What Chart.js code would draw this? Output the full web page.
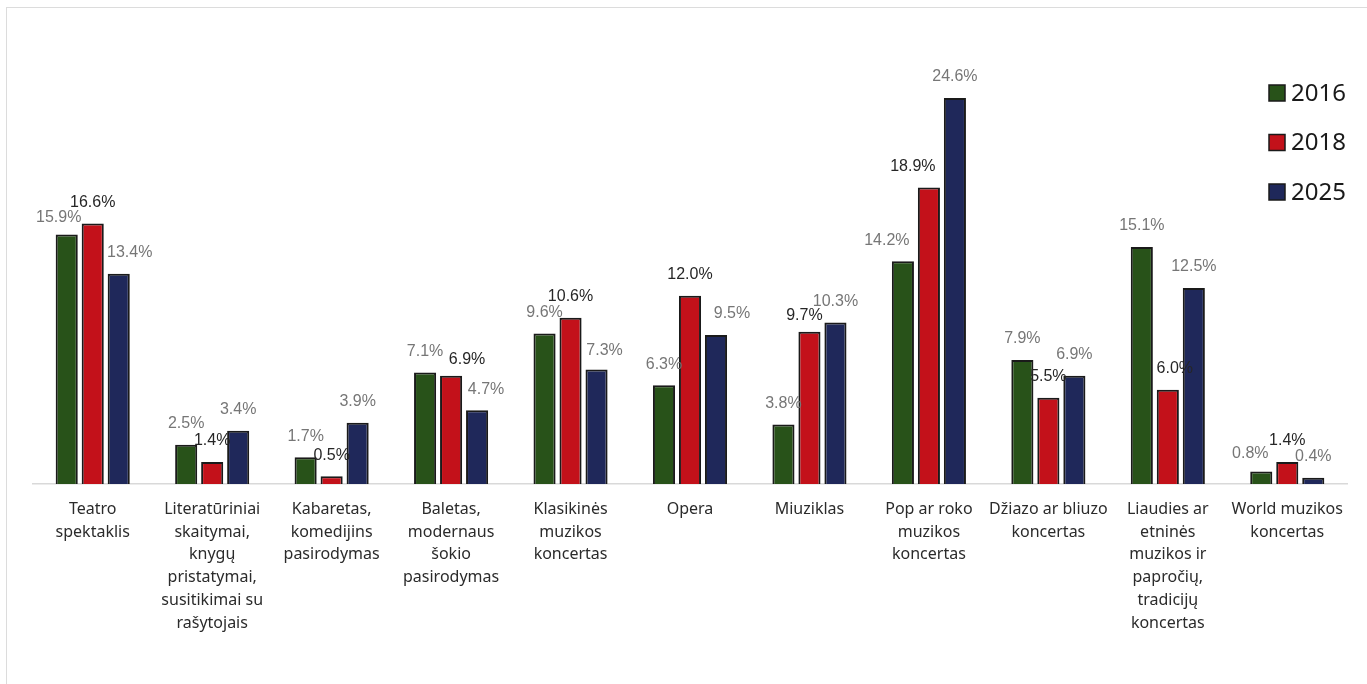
<!DOCTYPE html>
<html>
<head>
<meta charset="utf-8">
<script src="https://cdn.jsdelivr.net/npm/chart.js@4.4.1/dist/chart.umd.min.js"></script>
<style>
  html, body { margin: 0; padding: 0; background: #fff; overflow: hidden; }
  #frame { position: absolute; left: 6px; top: 7px; width: 1400px; height: 720px; border: 1.5px solid #dcdcdc; }
  #chart { position: absolute; left: 0; top: 0; }
</style>
</head>
<body>
<div id="frame"></div>
<canvas id="chart" width="1367" height="684"></canvas>
<script>
// Categories (line breaks as in the original labels)
const categories = [
  ["Teatro", "spektaklis"],
  ["Literatūriniai", "skaitymai,", "knygų", "pristatymai,", "susitikimai su", "rašytojais"],
  ["Kabaretas,", "komedijins", "pasirodymas"],
  ["Baletas,", "modernaus", "šokio", "pasirodymas"],
  ["Klasikinės", "muzikos", "koncertas"],
  ["Opera"],
  ["Miuziklas"],
  ["Pop ar roko", "muzikos", "koncertas"],
  ["Džiazo ar bliuzo", "koncertas"],
  ["Liaudies ar", "etninės", "muzikos ir", "papročių,", "tradicijų", "koncertas"],
  ["World muzikos", "koncertas"]
];

const years = ["2016", "2018", "2025"];
const values2016 = [15.9, 2.5, 1.7, 7.1, 9.6, 6.3, 3.8, 14.2, 7.9, 15.1, 0.8];
const values2018 = [16.6, 1.4, 0.5, 6.9, 10.6, 12.0, 9.7, 18.9, 5.5, 6.0, 1.4];
const values2025 = [13.4, 3.4, 3.9, 4.7, 7.3, 9.5, 10.3, 24.6, 6.9, 12.5, 0.4];

const colors = ["#285219", "#c3111a", "#1f285a"];
const labelColors = ["#767676", "#262626", "#767676"];

// Excel moved a few data labels to avoid overlaps: [series, category] -> [dx, dy]
const labelNudge = {
  "0,0": [-8, 4], "2,0": [11, 0],
  "1,3": [16, 5], "2,3": [9, 0],
  "2,4": [8, 2],
  "2,5": [16, 0],
  "1,6": [-5, 5],
  "0,7": [-16, 0], "1,7": [-16, 0],
  "1,9": [7, 0],
  "0,10": [-11, 3]
};

const dataLabels = {
  id: 'dataLabels',
  afterDatasetsDraw(chart) {
    const ctx = chart.ctx;
    ctx.save();
    ctx.font = '16px "Liberation Sans", Arial, sans-serif';
    ctx.textAlign = 'center';
    ctx.textBaseline = 'middle';
    chart.data.datasets.forEach((ds, si) => {
      const meta = chart.getDatasetMeta(si);
      ctx.fillStyle = labelColors[si];
      meta.data.forEach((bar, ci) => {
        const n = labelNudge[si + "," + ci] || [0, 0];
        ctx.fillText(ds.data[ci].toFixed(1) + '%', bar.x + n[0], bar.y - 21 + n[1]);
      });
    });
    ctx.restore();
  }
};

// Legend drawn inside the plot area on the right, like Excel does
const sideLegend = {
  id: 'sideLegend',
  afterDraw(chart) {
    const ctx = chart.ctx;
    ctx.save();
    ctx.font = '24px "Noto Sans", sans-serif';
    ctx.textBaseline = 'middle';
    years.forEach((y, i) => {
      const cy = 93 + i * 49.5;
      ctx.fillStyle = colors[i];
      ctx.fillRect(1269, cy - 8, 16, 16);
      ctx.strokeStyle = '#1a1a1a';
      ctx.lineWidth = 1.5;
      ctx.strokeRect(1269, cy - 8, 16, 16);
      ctx.fillStyle = '#1a1a1a';
      ctx.fillText(y, 1291, cy + 1);
    });
    ctx.restore();
  }
};

const series = [values2016, values2018, values2025];

new Chart(document.getElementById('chart'), {
  type: 'bar',
  data: {
    labels: categories,
    datasets: years.map((y, i) => ({
      label: y,
      data: series[i],
      backgroundColor: colors[i],
      borderColor: '#1a1a1a',
      borderWidth: 2,
      borderSkipped: 'bottom',
      categoryPercentage: 0.653,
      barPercentage: 0.85
    }))
  },
  options: {
    responsive: false,
    animation: false,
    layout: { padding: { left: 33, right: 20, top: 13.3, bottom: 0 } },
    plugins: {
      legend: { display: false },
      tooltip: { enabled: false }
    },
    scales: {
      x: {
        grid: { display: false, drawTicks: false },
        border: { display: true, color: '#d9d9d9', width: 1.5 },
        ticks: {
          color: '#2b2b2b',
          font: { family: '"Noto Sans", sans-serif', size: 16, lineHeight: 1.42 },
          padding: 14,
          maxRotation: 0,
          autoSkip: false
        },
        afterFit(scale) { scale.height = 200; }
      },
      y: {
        display: false,
        min: 0,
        max: 30
      }
    }
  },
  plugins: [dataLabels, sideLegend]
});
</script>
</body>
</html>
